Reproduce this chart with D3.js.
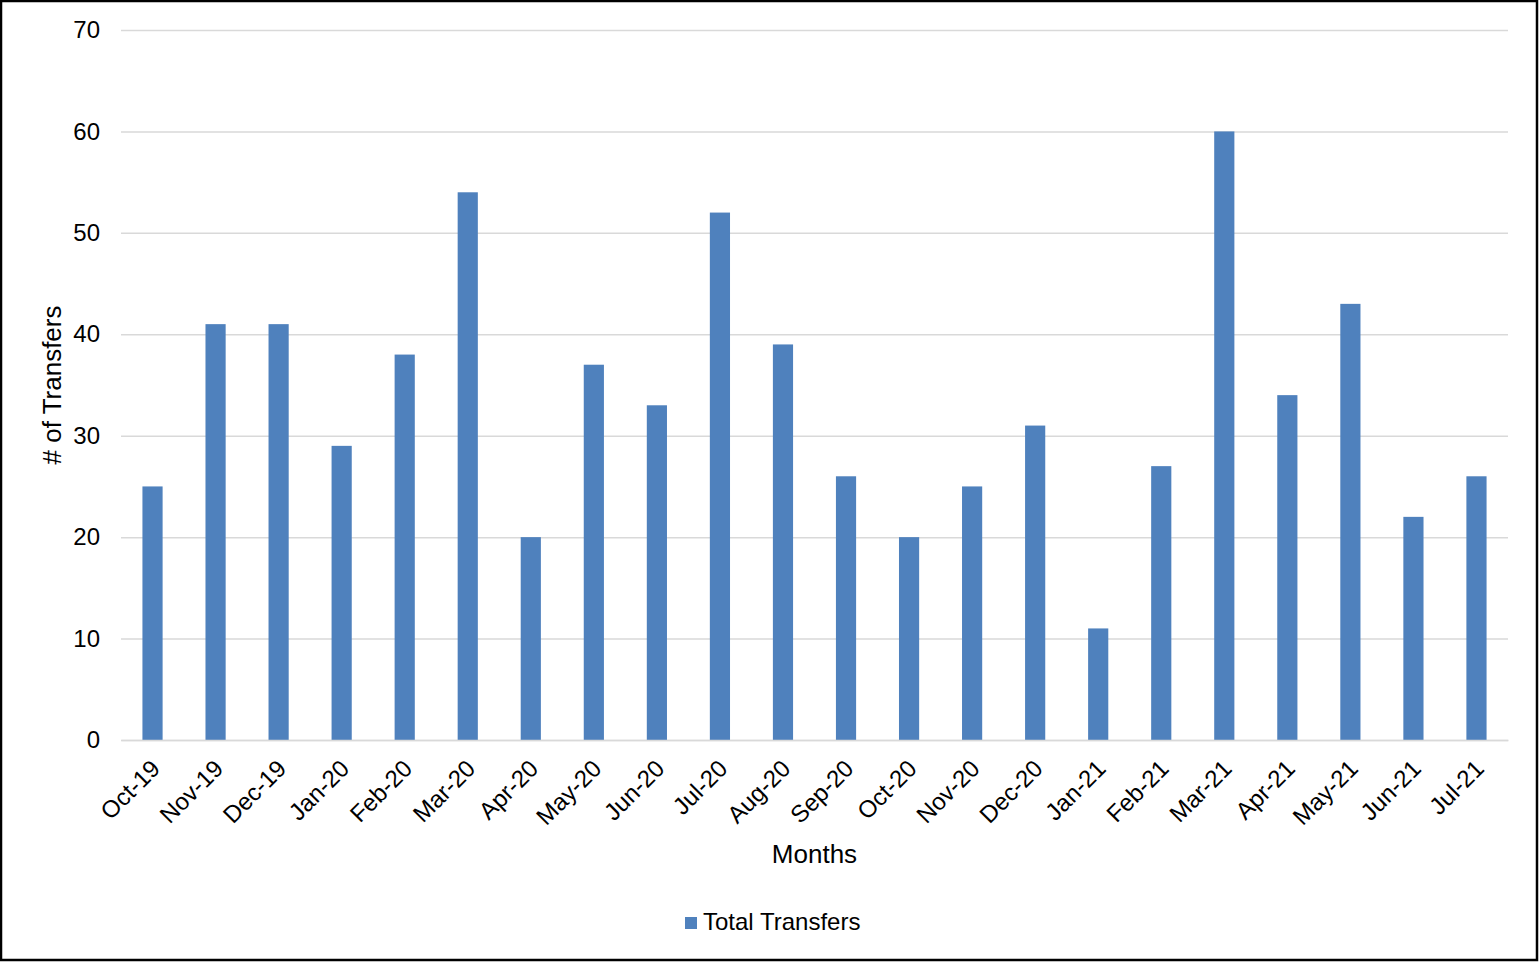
<!DOCTYPE html>
<html>
<head>
<meta charset="utf-8">
<script src="https://cdn.jsdelivr.net/npm/d3@7"></script>
<style>
  html, body { margin: 0; padding: 0; background: #fff; }
  svg { display: block; font-family: "Liberation Sans", Arial, sans-serif; }
</style>
</head>
<body>
<svg id="chart" width="1539" height="962"></svg>
<script>
// Monthly transfer counts
const months = ["Oct-19","Nov-19","Dec-19","Jan-20","Feb-20","Mar-20","Apr-20","May-20","Jun-20","Jul-20","Aug-20","Sep-20","Oct-20","Nov-20","Dec-20","Jan-21","Feb-21","Mar-21","Apr-21","May-21","Jun-21","Jul-21"];
const totalTransfers = [25,41,41,29,38,54,20,37,33,52,39,26,20,25,31,11,27,60,34,43,22,26];
const yTicks = [0,10,20,30,40,50,60,70];
const seriesName = "Total Transfers";

const svg = d3.select("#chart");
const W = 1539, H = 962;
const margin = { left: 121, right: 31, top: 30, bottom: 222 };
const plotW = W - margin.left - margin.right;
const plotH = H - margin.top - margin.bottom;
const barColor = "#4f81bd";
const fontFam = "Liberation Sans, Arial, sans-serif";

// outer frame
svg.append("rect")
  .attr("x", 1).attr("y", 1).attr("width", W - 3).attr("height", H - 3)
  .attr("fill", "#fff").attr("stroke", "#000").attr("stroke-width", 2.5);

const g = svg.append("g").attr("transform", `translate(${margin.left},${margin.top})`);

const x = d3.scaleBand().domain(months).range([0, plotW]).paddingInner(0.68).paddingOuter(0.34);
const y = d3.scaleLinear().domain([0, 70]).range([plotH, 0]);

// gridlines
g.append("g")
  .call(d3.axisLeft(y).tickValues(yTicks).tickSize(-plotW).tickFormat(""))
  .call(s => s.select(".domain").remove())
  .call(s => s.selectAll("line").attr("stroke", "#d9d9d9").attr("stroke-width", 1.5));

// y tick labels
g.append("g")
  .call(d3.axisLeft(y).tickValues(yTicks).tickSize(0).tickPadding(21))
  .call(s => s.select(".domain").remove())
  .call(s => s.selectAll("text").attr("font-size", 24).attr("fill", "#000")
    .attr("font-family", fontFam));

// bars
g.selectAll("rect.bar").data(months).join("rect")
  .attr("class", "bar")
  .attr("x", d => x(d))
  .attr("width", x.bandwidth())
  .attr("y", (d, i) => y(totalTransfers[i]))
  .attr("height", (d, i) => y(0) - y(totalTransfers[i]))
  .attr("fill", barColor);

// x axis baseline and labels
const xAxis = g.append("g").attr("transform", `translate(0,${plotH})`)
  .call(d3.axisBottom(x).tickSize(0).tickPadding(0));
xAxis.select(".domain").attr("stroke", "#d9d9d9").attr("stroke-width", 1.5);
xAxis.selectAll("text")
  .attr("font-size", 24).attr("fill", "#000")
  .attr("font-family", fontFam)
  .attr("text-anchor", "end")
  .attr("y", 0)
  .attr("dy", null)
  .attr("dominant-baseline", "central")
  .attr("transform", "translate(3,24) rotate(-45)");

// axis titles
svg.append("text")
  .attr("x", margin.left + plotW / 2).attr("y", 863)
  .attr("text-anchor", "middle").attr("font-size", 26).attr("fill", "#000")
  .attr("font-family", fontFam)
  .text("Months");

svg.append("text")
  .attr("transform", `translate(61,385) rotate(-90)`)
  .attr("text-anchor", "middle").attr("font-size", 26).attr("fill", "#000")
  .attr("font-family", fontFam)
  .text("# of Transfers");

// legend
const legend = svg.append("g").attr("transform", "translate(685,917)");
legend.append("rect").attr("width", 12).attr("height", 12).attr("fill", barColor);
legend.append("text").attr("x", 18).attr("y", 13).attr("font-size", 24).attr("fill", "#000")
  .attr("font-family", fontFam)
  .text(seriesName);
</script>
</body>
</html>
